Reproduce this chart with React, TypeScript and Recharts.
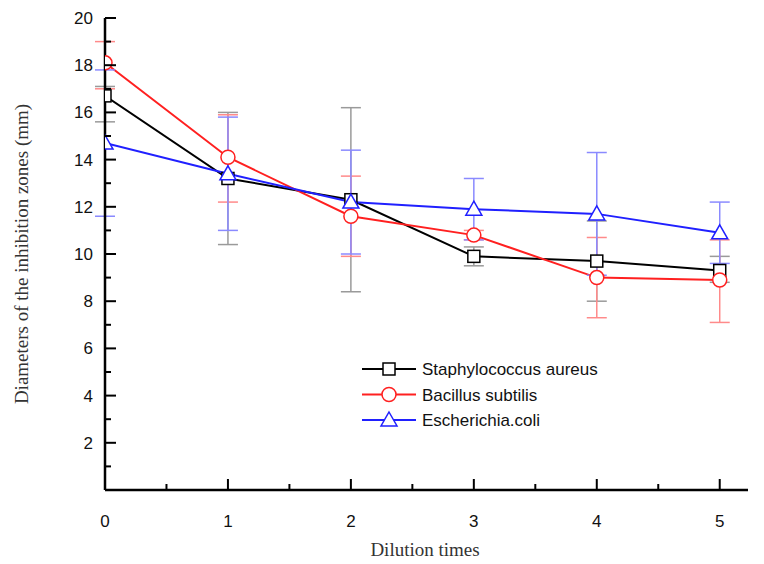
import React from 'react';
import { LineChart, Line, XAxis, YAxis, ErrorBar } from 'recharts';

const dilution = [0, 1, 2, 3, 4, 5];

const staphMean = [16.7, 13.2, 12.3, 9.9, 9.7, 9.3];
const staphLow = [15.6, 10.4, 8.4, 9.5, 8.0, 8.8];
const staphHigh = [17.1, 16.0, 16.2, 10.3, 11.4, 9.9];

const bacMean = [18.1, 14.1, 11.6, 10.8, 9.0, 8.9];
const bacLow = [17.0, 12.2, 9.9, 10.6, 7.3, 7.1];
const bacHigh = [19.0, 15.9, 13.3, 11.0, 10.7, 10.6];

const ecoliMean = [14.7, 13.4, 12.2, 11.9, 11.7, 10.9];
const ecoliLow = [11.6, 11.0, 10.0, 10.6, 9.1, 9.6];
const ecoliHigh = [17.8, 15.8, 14.4, 13.2, 14.3, 12.2];

const xTicks = [0, 0.5, 1, 1.5, 2, 2.5, 3, 3.5, 4, 4.5, 5];
const yTicks = [1, 2, 3, 4, 5, 6, 7, 8, 9, 10, 11, 12, 13, 14, 15, 16, 17, 18, 19, 20];

const data = dilution.map((d, i) => ({
  x: d,
  staph: staphMean[i],
  staphErr: [staphMean[i] - staphLow[i], staphHigh[i] - staphMean[i]],
  bac: bacMean[i],
  bacErr: [bacMean[i] - bacLow[i], bacHigh[i] - bacMean[i]],
  ecoli: ecoliMean[i],
  ecoliErr: [ecoliMean[i] - ecoliLow[i], ecoliHigh[i] - ecoliMean[i]],
}));

const tickFont = { fontFamily: 'Liberation Sans, Arial, sans-serif', fontSize: 17, fill: '#111' };

const XTick = (props: any) => {
  const { x, y, payload } = props;
  const major = Number.isInteger(payload.value);
  return (
    <g>
      <line x1={x} x2={x} y1={y} y2={y - (major ? 11 : 6)} stroke="#000" strokeWidth={2} />
      {major && (
        <text x={x} y={y + 37} textAnchor="middle" {...tickFont}>{payload.value}</text>
      )}
    </g>
  );
};

const YTick = (props: any) => {
  const { x, y, payload } = props;
  const major = payload.value % 2 === 0;
  return (
    <g>
      <line x1={x} x2={x + (major ? 11 : 6)} y1={y} y2={y} stroke="#000" strokeWidth={2} />
      {major && (
        <text x={x - 12} y={y + 6} textAnchor="end" {...tickFont}>{payload.value}</text>
      )}
    </g>
  );
};

const Square = ({ cx, cy }: any) => (
  <rect x={cx - 6} y={cy - 6} width={12} height={12} fill="#fff" stroke="#000" strokeWidth={1.5} />
);
const Circle = ({ cx, cy }: any) => (
  <circle cx={cx} cy={cy} r={7} fill="#fff" stroke="#ff2020" strokeWidth={1.5} />
);
const Triangle = ({ cx, cy }: any) => (
  <path d={`M${cx},${cy - 8} L${cx + 8},${cy + 6} L${cx - 8},${cy + 6} Z`} fill="#fff" stroke="#2020ff" strokeWidth={1.5} />
);

const legendItems = [
  { name: 'Staphylococcus aureus', color: '#000', Mark: Square },
  { name: 'Bacillus subtilis', color: '#ff2020', Mark: Circle },
  { name: 'Escherichia.coli', color: '#2020ff', Mark: Triangle },
];

const LegendBox = ({ x, y }: { x: number; y: number }) => (
  <g>
    {legendItems.map((it, i) => {
      const ly = y + i * 25.5;
      const M = it.Mark;
      return (
        <g key={it.name}>
          <line x1={x} x2={x + 54} y1={ly} y2={ly} stroke={it.color} strokeWidth={2} />
          <M cx={x + 27} cy={ly} />
          <text x={x + 60} y={ly + 6} {...tickFont}>{it.name}</text>
        </g>
      );
    })}
  </g>
);

// markers sitting on the y axis are cut in half, as in the original
const clip = (el: React.ReactNode, key: string) => (
  <g key={key} clipPath="url(#plotArea)">{el}</g>
);

export default function App() {
  return (
    <div style={{ position: 'absolute', left: 0, top: 0, width: 764, height: 564, background: '#fff' }}>
      <LineChart width={764} height={564} data={data} margin={{ top: 18, right: 16, bottom: 73, left: 104 }}>
        <defs>
          <clipPath id="plotArea">
            <rect x={105} y={0} width={659} height={490} />
          </clipPath>
        </defs>
        <XAxis
          dataKey="x"
          type="number"
          domain={[0, 5.23]}
          ticks={xTicks}
          interval={0}
          height={1}
          tickSize={0}
          tickMargin={0}
          tickLine={false}
          axisLine={{ stroke: '#000', strokeWidth: 2.5 }}
          tick={<XTick />}
          allowDataOverflow
        />
        <YAxis
          type="number"
          domain={[0, 20]}
          ticks={yTicks}
          interval={0}
          width={1}
          tickSize={0}
          tickMargin={0}
          tickLine={false}
          axisLine={{ stroke: '#000', strokeWidth: 2.5 }}
          tick={<YTick />}
          allowDataOverflow
        />
        <Line dataKey="staph" stroke="#000" strokeWidth={2} isAnimationActive={false}
          dot={(p: any) => clip(<Square cx={p.cx} cy={p.cy} />, `s${p.index}`)}>
          <ErrorBar dataKey="staphErr" stroke="#9a9a9a" strokeWidth={1.5} width={10} isAnimationActive={false} />
        </Line>
        <Line dataKey="bac" stroke="#ff2020" strokeWidth={2} isAnimationActive={false}
          dot={(p: any) => clip(<Circle cx={p.cx} cy={p.cy} />, `b${p.index}`)}>
          <ErrorBar dataKey="bacErr" stroke="#ff8a8a" strokeWidth={1.5} width={10} isAnimationActive={false} />
        </Line>
        <Line dataKey="ecoli" stroke="#2020ff" strokeWidth={2} isAnimationActive={false}
          dot={(p: any) => clip(<Triangle cx={p.cx} cy={p.cy} />, `e${p.index}`)}>
          <ErrorBar dataKey="ecoliErr" stroke="#8a8aff" strokeWidth={1.5} width={10} isAnimationActive={false} />
        </Line>
        <LegendBox x={362} y={369} />
        <text x={425} y={556} textAnchor="middle" fontFamily="Liberation Serif, Times New Roman, serif" fontSize={19} fill="#333">
          Dilution times
        </text>
        <text x={28} y={254} textAnchor="middle" transform="rotate(-90 28 254)" fontFamily="Liberation Serif, Times New Roman, serif" fontSize={19} fill="#333">
          Diameters of the inhibition zones (mm)
        </text>
      </LineChart>
    </div>
  );
}
